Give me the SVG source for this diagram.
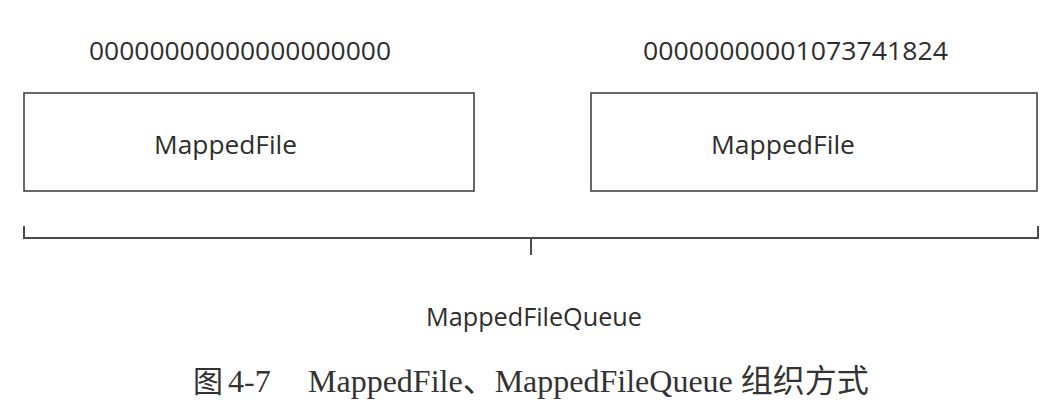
<svg xmlns="http://www.w3.org/2000/svg" width="1054" height="416" viewBox="0 0 1054 416">
<style>
.bg{fill:#ffffff}
.box{fill:#ffffff;stroke:#444444;stroke-width:1.6}
.lbl{font-family:"Open Sans","Liberation Sans",sans-serif;font-size:25px;fill:#2e2e2e}
.name{font-family:"Open Sans","Liberation Sans",sans-serif;font-size:26px;fill:#2e2e2e}
.br{fill:none;stroke:#4a4a4a;stroke-width:2}
.cap{font-family:"Liberation Serif","Noto Sans CJK SC",serif;font-size:32px;fill:#333333}
.capc{font-family:"Noto Sans CJK SC",serif;font-size:30px;fill:#333333}
</style>
<rect class="bg" x="0" y="0" width="1054" height="416"/>
<g id="offset1">
<text class="lbl" x="89" y="60" textLength="302" lengthAdjust="spacingAndGlyphs">00000000000000000000</text>
</g>
<g id="offset2">
<text class="lbl" x="643" y="60" textLength="305" lengthAdjust="spacingAndGlyphs">00000000001073741824</text>
</g>
<g id="mappedfile1">
<rect class="box" x="24" y="93" width="450" height="98"/>
<text class="name" x="154" y="154" textLength="143" lengthAdjust="spacingAndGlyphs">MappedFile</text>
</g>
<g id="mappedfile2">
<rect class="box" x="591" y="93" width="446" height="98"/>
<text class="name" x="711" y="154" textLength="144" lengthAdjust="spacingAndGlyphs">MappedFile</text>
</g>
<g id="connectors">
<path class="br" d="M24,226 V238 H1038 V226"/>
<path class="br" d="M531,238 V255"/>
</g>
<g id="mappedfilequeue">
<text class="lbl" x="426" y="326" textLength="216" lengthAdjust="spacingAndGlyphs">MappedFileQueue</text>
</g>
<g id="caption">
<text class="capc" x="193" y="392">图</text>
<text class="cap" x="228" y="392">4-7</text>
<text class="cap" x="308" y="392">MappedFile、MappedFileQueue 组织方式</text>
</g>
</svg>
